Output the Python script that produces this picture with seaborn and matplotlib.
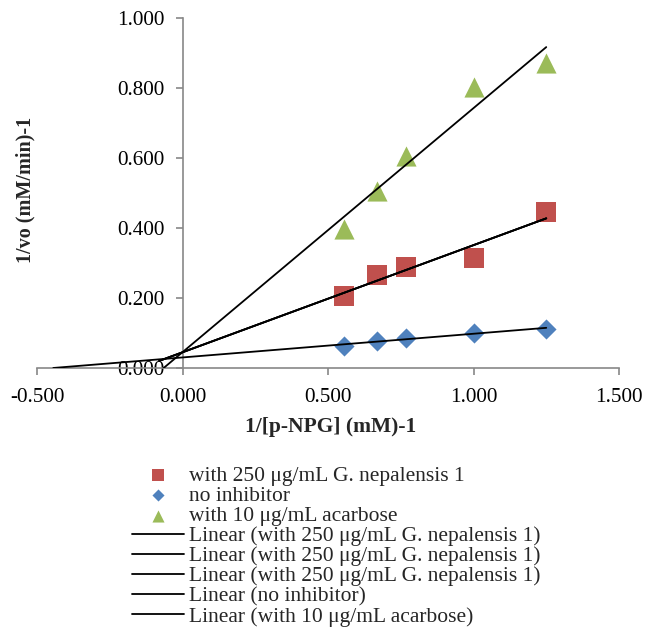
import numpy as np
import pandas as pd
import matplotlib
matplotlib.use("Agg")
import matplotlib.pyplot as plt
import seaborn as sns

# ---- data ----
x_inv_s = [0.556, 0.667, 0.769, 1.000, 1.250]
y_nepalensis = [0.207, 0.267, 0.290, 0.313, 0.446]
y_no_inhibitor = [0.063, 0.077, 0.086, 0.100, 0.112]
y_acarbose = [0.397, 0.506, 0.607, 0.803, 0.871]

series_names = ["with 250 μg/mL G. nepalensis 1", "no inhibitor", "with 10 μg/mL acarbose"]
series_values = [y_nepalensis, y_no_inhibitor, y_acarbose]
# where each Excel trendline (backward forecast) starts on x
trend_start = [-0.08, -0.444, -0.07]

x_ticks = [-0.5, 0.0, 0.5, 1.0, 1.5]
y_ticks = [0.0, 0.2, 0.4, 0.6, 0.8, 1.0]

colors = ["#C0504D", "#4F81BD", "#9BBB59"]
markers = ["s", "D", "^"]
msizes = [225, 105, 210]

sns.set_theme(style="white")
plt.rcParams["font.family"] = ["Liberation Serif", "DejaVu Serif"]

fig = plt.figure(figsize=(6.45, 6.32), dpi=100)
ax = fig.add_axes([37 / 645, 1 - 368 / 632, 582 / 645, 350 / 632])

frames = []
for name, vals in zip(series_names, series_values):
    frames.append(pd.DataFrame({"x": x_inv_s, "y": vals, "series": name}))
df = pd.concat(frames, ignore_index=True)

for name, c, m, s in zip(series_names, colors, markers, msizes):
    sub = df[df["series"] == name]
    sns.scatterplot(data=sub, x="x", y="y", color=c, marker=m, s=s,
                    linewidth=0, ax=ax, label=name, zorder=3)

line_handles = []
for i, (name, vals, x0) in enumerate(zip(series_names, series_values, trend_start)):
    slope, icpt = np.polyfit(x_inv_s, vals, 1)
    xs = np.array([x0, max(x_inv_s)])
    ys = slope * xs + icpt
    reps = 3 if i == 0 else 1
    for _ in range(reps):
        h, = ax.plot(xs, ys, color="black", lw=1.3, zorder=4,
                     label="Linear (%s)" % name)
        line_handles.append(h)

ax.set_xlim(-0.5, 1.5)
ax.set_ylim(0.0, 1.0)
ax.set_xticks(x_ticks)
ax.set_yticks(y_ticks)
ax.set_xticklabels(["%.3f" % v for v in x_ticks])
ax.set_yticklabels(["%.3f" % v for v in y_ticks])

for side in ["top", "right"]:
    ax.spines[side].set_visible(False)
ax.spines["left"].set_position(("data", 0))
ax.spines["bottom"].set_position(("data", 0))
for side in ["left", "bottom"]:
    ax.spines[side].set_color("#888888")
    ax.spines[side].set_linewidth(1.2)
ax.tick_params(axis="both", direction="out", length=5, width=1.2, color="#888888",
               labelsize=15.2, labelcolor="black")
ax.tick_params(axis="y", pad=8, left=True)
ax.tick_params(axis="x", pad=9.5, bottom=True)

ax.set_xlabel("1/[p-NPG] (mM)-1", fontsize=15.5, fontweight="bold")
ax.set_ylabel("1/vo (mM/min)-1", fontsize=14.5, fontweight="bold")
ax.xaxis.set_label_coords((331 - 37) / 582, (368 - 427) / 350)
ax.xaxis.label.set_va("center")
ax.yaxis.set_label_coords((25 - 37) / 582, (368 - 190) / 350)
ax.yaxis.label.set_va("center")

h_sc, l_sc = ax.get_legend_handles_labels()
if ax.get_legend() is not None:
    ax.get_legend().remove()
scat = [h for h, l in zip(h_sc, l_sc) if not l.startswith("Linear")]
scat_l = [l for h, l in zip(h_sc, l_sc) if not l.startswith("Linear")]
handles = scat + line_handles
labels = scat_l + [h.get_label() for h in line_handles]
fig.legend(handles, labels, loc="upper left", bbox_to_anchor=(132 / 645, 1 - 466 / 632),
           frameon=False, fontsize=15.5, borderpad=0, labelspacing=0.0,
           handlelength=2.4, handletextpad=0.25, markerscale=0.6, borderaxespad=0)

fig.savefig("out.png", dpi=100)
